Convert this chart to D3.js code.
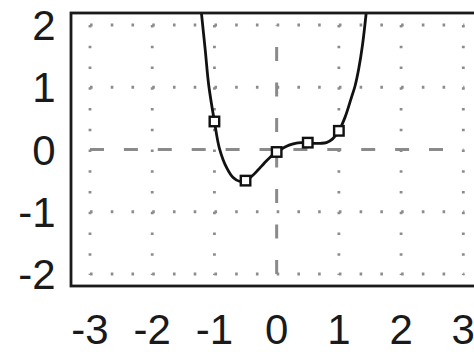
<!DOCTYPE html>
<html>
<head>
<meta charset="utf-8">
<script src="https://cdn.jsdelivr.net/npm/d3@7"></script>
<style>
  html, body { margin: 0; padding: 0; background: #fff; }
  svg { display: block; }
  text { font-family: "Liberation Sans", Arial, sans-serif; fill: #1a1a1a; }
</style>
</head>
<body>
<svg id="chart" width="474" height="352"></svg>
<script>
// Marker points
const pointX = [-1, -0.5, 0, 0.5, 1];
const pointY = [0.45, -0.5, -0.04, 0.11, 0.30];

// Fitted curve
const curveX = [-1.21, -1.15, -1.09, -1.0, -0.92, -0.8, -0.7, -0.6, -0.5, -0.4, -0.3, -0.2, -0.1, 0, 0.1, 0.2, 0.3, 0.4, 0.5, 0.6, 0.7, 0.8, 0.9, 1.0, 1.1, 1.2, 1.26, 1.32, 1.38, 1.44];
const curveY = [2.2, 1.62, 1.02, 0.45, 0.02, -0.3, -0.45, -0.51, -0.5, -0.43, -0.33, -0.22, -0.12, -0.04, 0.02, 0.07, 0.10, 0.11, 0.11, 0.10, 0.10, 0.11, 0.17, 0.30, 0.52, 0.83, 1.02, 1.3, 1.68, 2.2];

// Tick labels
const xTicks = [-3, -2, -1, 0, 1, 2, 3];
const yTicks = [-2, -1, 0, 1, 2];

const svg = d3.select("#chart");
const x = d3.scaleLinear().domain([-3, 3]).range([90, 463.3]);
const y = d3.scaleLinear().domain([-2, 2]).range([274, 25]);

const frame = { left: 71, top: 13, right: 490, bottom: 286 };

svg.append("defs").append("clipPath").attr("id", "clip")
  .append("rect")
  .attr("x", frame.left).attr("y", frame.top)
  .attr("width", frame.right - frame.left).attr("height", frame.bottom - frame.top);

// dotted grid
const dotPeriod = (x(1) - x(0)) / 3;
const grid = svg.append("g");
xTicks.filter(d => d !== 0).forEach(d => {
  grid.append("line")
    .attr("x1", x(d)).attr("x2", x(d))
    .attr("y1", y(2)).attr("y2", y(-2) + 1)
    .attr("stroke", "#8c8c8c").attr("stroke-width", 2.8)
    .attr("stroke-dasharray", `2.6,${dotPeriod - 2.6}`);
});
yTicks.filter(d => d !== 0).forEach(d => {
  grid.append("line")
    .attr("y1", y(d)).attr("y2", y(d))
    .attr("x1", x(-3)).attr("x2", x(3) + 1)
    .attr("stroke", "#8c8c8c").attr("stroke-width", 2.8)
    .attr("stroke-dasharray", `2.6,${dotPeriod - 2.6}`);
});
// dashed zero lines
grid.append("line")
  .attr("x1", x(-3)).attr("x2", x(3))
  .attr("y1", y(0)).attr("y2", y(0))
  .attr("stroke", "#8a8a8a").attr("stroke-width", 3)
  .attr("stroke-dasharray", "14,19.9");
grid.append("line")
  .attr("x1", x(0)).attr("x2", x(0))
  .attr("y1", y(-2)).attr("y2", y(2))
  .attr("stroke", "#8a8a8a").attr("stroke-width", 3)
  .attr("stroke-dasharray", "14,21.5");

// curve
const curveData = curveX.map((d, i) => [d, curveY[i]]);
svg.append("path")
  .datum(curveData)
  .attr("clip-path", "url(#clip)")
  .attr("fill", "none")
  .attr("stroke", "#111")
  .attr("stroke-width", 2.8)
  .attr("d", d3.line().x(d => x(d[0])).y(d => y(d[1])).curve(d3.curveCatmullRom.alpha(0.5)));

// markers
const ms = 9.5;
svg.append("g").selectAll("rect")
  .data(pointX.map((d, i) => [d, pointY[i]]))
  .join("rect")
  .attr("x", d => x(d[0]) - ms / 2)
  .attr("y", d => y(d[1]) - ms / 2)
  .attr("width", ms).attr("height", ms)
  .attr("fill", "#fff").attr("stroke", "#111").attr("stroke-width", 2.4);

// frame
svg.append("rect")
  .attr("x", frame.left).attr("y", frame.top)
  .attr("width", frame.right - frame.left).attr("height", frame.bottom - frame.top)
  .attr("fill", "none").attr("stroke", "#1a1a1a").attr("stroke-width", 2.8);

// axis labels
svg.append("g").selectAll("text")
  .data(xTicks)
  .join("text")
  .attr("x", d => x(d))
  .attr("y", 343.5)
  .attr("text-anchor", "middle")
  .attr("font-size", 42)
  .text(d => String(d));

svg.append("g").selectAll("text")
  .data(yTicks)
  .join("text")
  .attr("x", 55.5)
  .attr("y", d => y(d) + 15.2)
  .attr("text-anchor", "end")
  .attr("font-size", 42)
  .text(d => String(d));
</script>
</body>
</html>
